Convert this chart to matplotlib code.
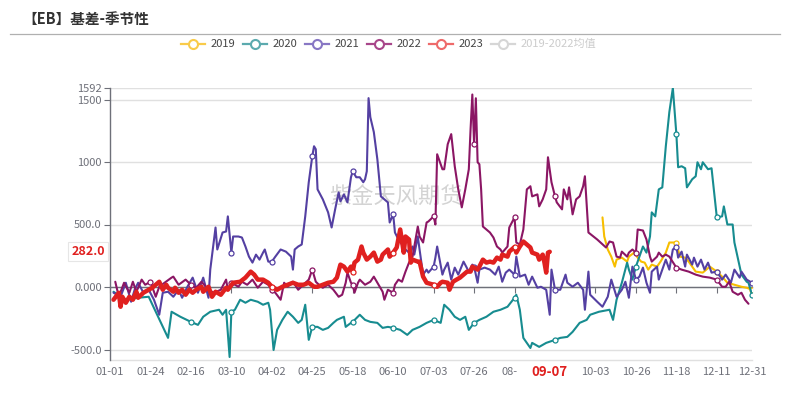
import numpy as np
import matplotlib
matplotlib.use('Agg')
import matplotlib.pyplot as plt
from matplotlib.lines import Line2D
from matplotlib.transforms import blended_transform_factory

plt.rcParams['font.family'] = ['Noto Sans CJK SC', 'DejaVu Sans']

# ---------------- data ----------------
title = '【EB】基差-季节性'
watermark = '紫金天风期货'

tick_days = [0, 23, 46, 69, 92, 115, 138, 161, 184, 207, 230, 253, 276, 299, 322, 345, 365]
tick_labels = ['01-01', '01-24', '02-16', '03-10', '04-02', '04-25', '05-18', '06-10', '07-03',
               '07-26', '08-18', '09-10', '10-03', '10-26', '11-18', '12-11', '12-31']
y_ticks = [-500, 0, 500, 1000, 1500, 1592]
y_tick_labels = ['-500.0', '0.000', '500.0', '1000', '1500', '1592']
y_min = -584

current_day = 250
current_day_label = '09-07'
current_value = 282.0

s2019 = [(280, 557), (281, 404), (283, 300), (285, 243), (287, 163), (288, 219), (291, 235),
         (294, 203), (295, 243), (298, 275), (300, 235), (302, 203), (304, 195), (306, 139),
         (308, 179), (311, 163), (313, 203), (316, 275), (318, 356), (322, 356), (324, 243),
         (327, 235), (329, 203), (333, 123), (337, 115), (341, 163), (345, 123), (348, 83),
         (351, 34), (355, 18), (359, 2), (362, -6), (365, -22)]

s2020 = [(2, -38), (9, -102), (16, -86), (22, -78), (33, -407), (35, -198), (40, -238), (46, -279),
         (50, -303), (53, -238), (57, -198), (62, -182), (64, -222), (66, -182), (68, -560), (69, -198),
         (71, -182), (74, -102), (77, -126), (80, -102), (84, -118), (87, -142), (90, -126), (91, -182),
         (93, -504), (95, -343), (98, -263), (101, -198), (104, -238), (107, -287), (109, -263),
         (111, -142), (113, -423), (115, -319), (118, -319), (121, -343), (124, -327), (127, -287),
         (129, -263), (133, -238), (134, -319), (137, -287), (138, -279), (142, -222), (145, -263),
         (148, -279), (152, -287), (155, -327), (158, -319), (161, -327), (165, -343), (169, -383),
         (172, -343), (176, -319), (180, -287), (184, -263), (188, -287), (190, -142), (193, -182),
         (196, -238), (199, -263), (202, -238), (204, -343), (207, -287), (210, -263), (214, -238),
         (218, -198), (222, -182), (226, -158), (230, -86), (231, -62), (233, -182), (235, -407),
         (237, -447), (239, -488), (240, -447), (244, -479), (248, -447), (253, -423), (256, -407),
         (260, -399), (263, -359), (267, -287), (271, -263), (273, -222), (278, -198), (284, -182),
         (286, -263), (288, -102), (291, 34), (294, 195), (295, 139), (297, 59), (299, 163),
         (301, 243), (303, 324), (305, 275), (307, 404), (308, 597), (310, 565), (312, 781),
         (314, 797), (316, 1126), (318, 1399), (320, 1592), (322, 1223), (323, 958), (325, 966),
         (327, 950), (328, 797), (331, 862), (333, 886), (334, 998), (336, 942), (337, 998),
         (340, 942), (342, 950), (345, 557), (348, 565), (349, 645), (351, 500), (354, 500),
         (355, 356), (358, 163), (359, 99), (362, 42), (363, 34), (365, -62)]

s2021 = [(2, -46), (6, -78), (9, 34), (12, -118), (14, -22), (16, 34), (19, -46), (22, -22),
         (25, -102), (28, -222), (30, -46), (33, -38), (36, -78), (39, -22), (41, -86), (44, 2),
         (47, 75), (50, -46), (53, 75), (56, -86), (57, 139), (60, 476), (61, 300), (64, 436),
         (66, 444), (67, 565), (69, 275), (70, 404), (73, 404), (75, 396), (77, 324), (79, 243),
         (81, 195), (83, 259), (85, 219), (87, 275), (88, 300), (90, 203), (92, 203), (94, 243),
         (97, 300), (100, 283), (103, 243), (104, 139), (105, 300), (107, 324), (109, 340),
         (111, 565), (113, 838), (115, 1046), (116, 1126), (117, 1102), (118, 781), (121, 701),
         (124, 597), (126, 476), (128, 621), (130, 757), (131, 685), (133, 741), (135, 677),
         (137, 878), (138, 926), (140, 878), (142, 878), (144, 838), (145, 862), (146, 926),
         (147, 1511), (148, 1359), (150, 1239), (152, 1022), (154, 725), (156, 701), (158, 677),
         (159, 516), (161, 581), (162, 436), (164, 380), (166, 340), (168, 300), (170, 275),
         (172, 324), (173, 259), (175, 404), (176, 300), (178, 99), (180, 139), (181, 115),
         (184, 163), (185, 235), (186, 324), (189, 99), (190, 139), (192, 195), (194, 59),
         (196, 155), (198, 99), (201, 203), (204, 123), (206, 179), (207, 163), (209, 34),
         (210, 139), (213, 155), (216, 139), (219, 99), (221, 163), (223, 42), (225, 115),
         (227, 139), (230, 99), (231, 243), (233, 83), (236, 99), (238, 18), (240, 83), (243, -6),
         (245, 2), (248, -22), (250, -222), (251, 139), (253, -22), (256, -22), (259, 99),
         (260, 34), (263, 2), (266, 34), (269, -22), (270, -182), (272, 123), (273, -62),
         (277, -118), (280, -158), (283, -78), (285, 59), (288, -78), (291, -22), (293, 42),
         (295, -86), (297, 163), (299, 60), (301, 83), (303, 155), (305, 34), (307, -46),
         (308, 123), (311, 163), (312, 59), (314, 139), (316, 219), (318, 139), (320, 300),
         (322, 324), (323, 235), (325, 283), (327, 163), (328, 259), (331, 179), (332, 235),
         (334, 163), (336, 219), (338, 139), (340, 195), (342, 115), (345, 123), (348, 59),
         (350, 99), (353, 34), (355, 139), (358, 75), (359, 123), (362, 59), (365, 34)]

s2022 = [(3, 42), (5, -78), (8, 34), (11, -46), (13, 42), (15, -38), (18, 59), (20, 18), (23, 42),
         (26, -78), (28, 2), (31, 34), (35, 75), (36, 83), (39, 18), (43, 59), (46, 18), (49, -6),
         (52, 42), (56, -22), (59, -46), (63, -22), (66, 59), (67, -22), (69, 34), (73, 2), (75, 42),
         (78, 18), (81, 59), (84, -6), (87, 42), (90, 18), (92, -22), (94, -46), (97, -102), (99, 34),
         (101, 2), (103, 34), (104, 42), (107, -22), (110, 18), (113, 59), (115, 139), (117, 42),
         (120, 2), (121, -6), (124, 18), (127, -22), (130, -78), (132, -62), (134, 34), (135, 115),
         (137, 34), (138, 18), (139, -46), (141, 34), (142, 59), (145, 18), (148, 42), (150, 83),
         (152, 34), (155, -38), (156, -102), (158, -22), (161, -46), (162, 18), (164, 59), (166, 42),
         (168, 123), (170, 195), (172, 243), (173, 324), (175, 484), (176, 404), (178, 356),
         (180, 516), (181, 524), (184, 565), (185, 500), (186, 1062), (189, 942), (190, 942),
         (192, 1142), (194, 1223), (196, 966), (198, 781), (200, 637), (202, 781), (204, 942),
         (205, 1263), (206, 1540), (207, 1142), (208, 1510), (209, 998), (210, 982), (211, 781),
         (212, 484), (214, 460), (216, 436), (218, 396), (220, 324), (222, 300), (223, 275),
         (226, 324), (227, 476), (230, 557), (231, 356), (233, 340), (235, 460), (237, 781),
         (239, 806), (240, 725), (243, 741), (244, 645), (246, 701), (248, 781), (249, 1038),
         (251, 838), (253, 725), (254, 677), (257, 621), (258, 781), (260, 701), (261, 797),
         (263, 581), (265, 701), (267, 725), (269, 806), (270, 886), (272, 436), (277, 380),
         (282, 316), (284, 364), (286, 356), (288, 243), (290, 235), (291, 283), (294, 243),
         (295, 275), (297, 300), (299, 275), (300, 460), (303, 452), (305, 380), (307, 243),
         (308, 203), (311, 243), (312, 275), (314, 243), (316, 259), (318, 243), (322, 155),
         (325, 139), (329, 123), (333, 99), (337, 83), (341, 75), (345, 59), (348, 2), (350, 2),
         (352, 42), (354, -38), (357, -62), (359, -46), (361, -102), (362, -118), (363, -134)]

s2023 = [(2, -102), (5, -46), (6, -158), (7, -78), (9, -126), (11, -78), (13, -102), (15, -38),
         (16, -86), (19, -46), (22, -22), (24, -6), (26, 18), (28, 42), (30, -22), (32, 18), (33, -6),
         (36, -38), (37, -6), (39, -46), (41, -22), (43, -62), (45, -22), (47, -46), (49, -22),
         (52, 2), (53, -38), (56, 2), (58, -78), (60, -38), (63, -62), (66, -6), (67, -22), (70, 34),
         (74, 42), (77, 75), (80, 123), (82, 99), (84, 59), (87, 59), (90, 34), (92, 2), (95, -22),
         (98, 2), (101, 18), (104, 34), (107, 18), (110, 18), (113, 34), (116, 2), (118, 2),
         (121, 18), (124, 34), (127, 42), (129, 75), (131, 179), (133, 163), (135, 123), (137, 163),
         (138, 123), (139, 195), (141, 219), (143, 324), (144, 275), (146, 219), (148, 243),
         (150, 275), (152, 203), (154, 219), (155, 259), (158, 300), (159, 243), (161, 275),
         (163, 316), (165, 460), (167, 275), (168, 404), (170, 380), (171, 195), (172, 219),
         (175, 203), (176, 203), (178, 83), (180, 34), (184, 18), (186, 2), (188, 34), (189, 42),
         (192, 34), (193, -22), (195, 42), (197, 59), (199, 75), (201, 99), (203, 123), (205, 123),
         (206, 163), (209, 139), (210, 163), (212, 219), (214, 195), (216, 203), (218, 195),
         (220, 235), (222, 219), (223, 259), (226, 243), (227, 283), (230, 320), (231, 275),
         (233, 324), (235, 364), (237, 340), (239, 316), (240, 275), (243, 259), (244, 219),
         (246, 259), (247, 195), (248, 115), (249, 275), (250, 282)]

series_names = ['2019', '2020', '2021', '2022', '2023']
series_data = [s2019, s2020, s2021, s2022, s2023]
series_colors = ['#F7BE00', '#178C90', '#5440A2', '#8B1664', '#E0201F']
legend_colors = ['#F9CB4A', '#5BAAAE', '#8877C4', '#A8468A', '#EE6A6A']
series_widths = [1.5, 1.5, 1.5, 1.5, 3.2]
series_z = [3, 3, 4, 4, 6]
avg_name = '2019-2022均值'

# ---------------- figure ----------------
W, H = 792, 413
fig = plt.figure(figsize=(W / 100, H / 100), dpi=100)
ax = fig.add_axes([110 / W, 1 - 360 / H, 642 / W, 272 / H])

axis_grey = '#6E7079'
for name, data, col, lw, z in zip(series_names, series_data, series_colors, series_widths, series_z):
    d = np.array([p[0] for p in data])
    v = np.array([p[1] for p in data])
    mask = np.isin(d, tick_days)
    ax.plot(d, v, color=col, lw=lw, zorder=z, solid_joinstyle='round', solid_capstyle='round',
            marker='o', markevery=list(np.where(mask)[0]), markersize=3.6,
            markerfacecolor='white', markeredgecolor=col, markeredgewidth=0.9)

ax.set_xlim(tick_days[0], tick_days[-1])
ax.set_ylim(y_min, y_ticks[-1])

# y axis
ax.set_yticks(y_ticks)
ax.set_yticklabels(y_tick_labels)
ax.tick_params(axis='y', length=4, color=axis_grey, labelcolor=axis_grey, labelsize=8, pad=2)
ax.yaxis.grid(True, color='#E0E0E0', lw=1.0, zorder=0)
ax.set_axisbelow(True)
for s in ['top', 'right']:
    ax.spines[s].set_visible(False)
ax.spines['left'].set_color(axis_grey)
ax.spines['left'].set_linewidth(1.0)
ax.spines['bottom'].set_position(('data', 0))
ax.spines['bottom'].set_color(axis_grey)
ax.spines['bottom'].set_linewidth(1.0)
ax.spines['bottom'].set_zorder(2)

# x axis: ticks on zero line, labels at bottom
ax.set_xticks(tick_days)
ax.set_xticklabels([])
ax.tick_params(axis='x', length=4, color=axis_grey, direction='out')
trans = blended_transform_factory(ax.transData, ax.transAxes)
for dd, lab in zip(tick_days, tick_labels):
    gap = abs(dd - current_day)
    if gap < 8:
        continue  # hidden behind the pointer label
    shown = lab[:3] if gap < 25 else lab
    ha = 'left' if gap < 25 else 'center'
    xoff = -7.5 if gap < 25 else 0
    ax.text(dd + xoff, -0.045, shown, transform=trans, ha=ha, va='center', fontsize=8, color=axis_grey)
ax.plot([0, 1], [0, 0], transform=ax.transAxes, color='#E0E0E0', lw=1.0, clip_on=False, zorder=0)

# axis pointer labels
ax.text(current_day, -0.045, current_day_label, transform=trans, ha='center', va='center',
        fontsize=9.5, fontweight='bold', color='#E0201F', zorder=10,
        bbox=dict(boxstyle='square,pad=0.2', fc='white', ec='none'))
transy = blended_transform_factory(ax.transAxes, ax.transData)
ax.text(-0.034, current_value, f'{current_value:.1f}', transform=transy, ha='center', va='center',
        fontsize=9, fontweight='bold', color='#E0201F', zorder=10, clip_on=False,
        bbox=dict(boxstyle='square,pad=0.25', fc='white', ec='#E6E6E6', lw=0.8))

# watermark
ax.text(0.445, 0.6, watermark, transform=ax.transAxes, ha='center', va='center',
        fontsize=16, color='#C8C8C8', alpha=0.8, zorder=1)

# title and rule
fig.text(22 / W, 1 - 19 / H, title, ha='left', va='center', fontsize=10.5, fontweight='bold', color='#333333')
fig.add_artist(Line2D([10 / W, 780 / W], [1 - 34 / H, 1 - 34 / H], color='#B0B0B0', lw=0.9))

# legend
leg_names = series_names + [avg_name]
leg_cols = legend_colors + ['#D6D6D6']
leg_text_cols = ['#444444'] * 5 + ['#CCCCCC']
ly = 1 - 44 / H
for i, (nm, c, tc) in enumerate(zip(leg_names, leg_cols, leg_text_cols)):
    cx = 193 + i * 62
    fig.add_artist(Line2D([(cx - 12) / W, (cx + 12) / W], [ly, ly], color=c, lw=1.6))
    fig.add_artist(Line2D([cx / W], [ly], marker='o', markersize=6.5, markerfacecolor='white',
                          markeredgecolor=c, markeredgewidth=1.5, lw=0))
    fig.text((cx + 18) / W, ly, nm, ha='left', va='center', fontsize=8, color=tc)

fig.savefig('out.png', dpi=100)
